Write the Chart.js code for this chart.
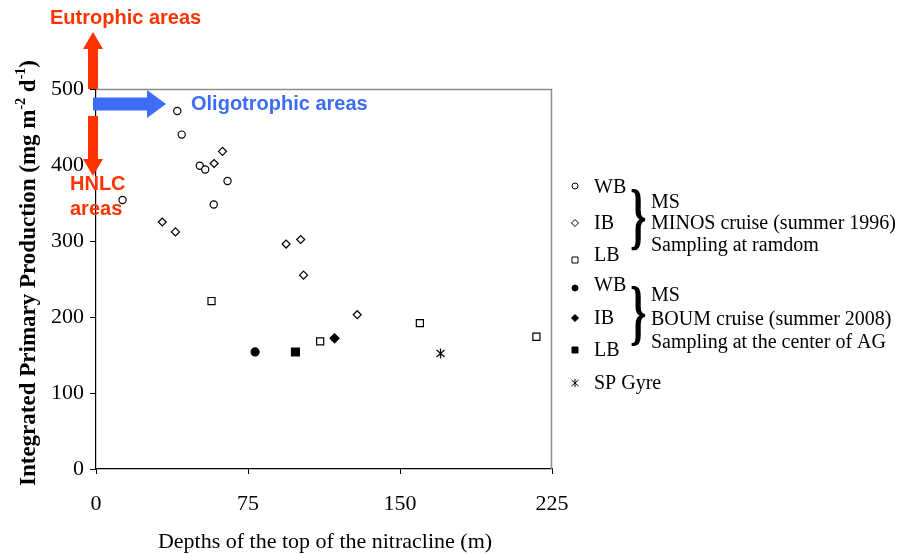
<!DOCTYPE html>
<html>
<head>
<meta charset="utf-8">
<script src="https://cdn.jsdelivr.net/npm/chart.js@4.4.1/dist/chart.umd.min.js"></script>
<style>
  html, body { margin: 0; padding: 0; background: #fff; }
  #wrap { width: 901px; height: 554px; }
</style>
</head>
<body>
<div id="wrap"><canvas id="ppChart" width="901" height="554"></canvas></div>
<script>
// axis ticks
const xTicks = [0, 75, 150, 225];
const yTicks = [0, 100, 200, 300, 400, 500];

// [depth of nitracline top (m), integrated PP (mg m-2 d-1)]
const minosWB = [[40.1, 471], [42.3, 440], [51.2, 399], [53.9, 394], [64.9, 379], [58.1, 348], [13.1, 354]];
const minosIB = [[62.4, 418], [58.3, 402], [32.7, 325], [39.2, 312], [93.8, 296], [101, 302], [102.4, 255], [128.9, 203]];
const minosLB = [[57, 221], [110.6, 168], [159.8, 192], [217.3, 174]];
const boumWB = [[78.5, 154]];
const boumIB = [[117.7, 172]];
const boumLB = [[98.4, 154]];
const spGyre = [[170, 152]];

const SERIF = "'Liberation Serif', 'Times New Roman', serif";
const SANS = "'Liberation Sans', Arial, sans-serif";
const RED = "#ff3300";
const BLUE = "#3d6cf5";

const toPts = (arr) => arr.map((p) => ({ x: p[0], y: p[1] }));

function makeStar() {
  const c = document.createElement("canvas");
  c.width = 11;
  c.height = 11;
  const g = c.getContext("2d");
  g.strokeStyle = "#000";
  g.lineWidth = 1.2;
  g.beginPath();
  g.moveTo(5.5, 0.5); g.lineTo(5.5, 10.5);
  g.moveTo(1.5, 2); g.lineTo(9.5, 9);
  g.moveTo(9.5, 2); g.lineTo(1.5, 9);
  g.stroke();
  return c;
}
const starImg = makeStar();

function ds(label, arr, style, filled, r) {
  return {
    label: label,
    data: toPts(arr),
    pointStyle: style,
    pointRadius: r,
    pointHoverRadius: r,
    borderWidth: 1.2,
    borderColor: "#000",
    backgroundColor: filled ? "#000" : "#fff",
  };
}

// small legend symbol
function sym(ctx, type, x, y, filled) {
  ctx.save();
  ctx.strokeStyle = "#000";
  ctx.fillStyle = filled ? "#000" : "#fff";
  ctx.lineWidth = 1;
  ctx.beginPath();
  if (type === "circle") ctx.arc(x, y, 3, 0, Math.PI * 2);
  if (type === "diamond") { ctx.moveTo(x, y - 3.5); ctx.lineTo(x + 3.5, y); ctx.lineTo(x, y + 3.5); ctx.lineTo(x - 3.5, y); ctx.closePath(); }
  if (type === "square") ctx.rect(x - 3, y - 3, 6, 6);
  if (type === "star") {
    ctx.moveTo(x, y - 4); ctx.lineTo(x, y + 4);
    ctx.moveTo(x - 3.5, y - 3); ctx.lineTo(x + 3.5, y + 3);
    ctx.moveTo(x + 3.5, y - 3); ctx.lineTo(x - 3.5, y + 3);
    ctx.stroke();
  } else {
    ctx.fill();
    ctx.stroke();
  }
  ctx.restore();
}

function brace(ctx, x, yTop, yBot) {
  const h = yBot - yTop;
  ctx.save();
  ctx.fillStyle = "#000";
  ctx.font = "bold 72px " + SERIF;
  ctx.textBaseline = "middle";
  const m = ctx.measureText("}");
  const gh = m.actualBoundingBoxAscent + m.actualBoundingBoxDescent;
  const sy = h / gh;
  ctx.translate(x, (yTop + yBot) / 2);
  ctx.scale(0.58, sy);
  ctx.fillText("}", 0, (m.actualBoundingBoxAscent - m.actualBoundingBoxDescent) / 2);
  ctx.restore();
}

function arrowV(ctx, x, yFrom, yTo) {
  const dir = yTo > yFrom ? 1 : -1;
  const headLen = 17;
  ctx.beginPath();
  ctx.moveTo(x - 5, yFrom);
  ctx.lineTo(x - 5, yTo - dir * headLen);
  ctx.lineTo(x - 10, yTo - dir * headLen);
  ctx.lineTo(x, yTo);
  ctx.lineTo(x + 10, yTo - dir * headLen);
  ctx.lineTo(x + 5, yTo - dir * headLen);
  ctx.lineTo(x + 5, yFrom);
  ctx.closePath();
  ctx.fill();
}

const decor = {
  id: "decor",
  beforeDatasetsDraw(chart) {
    const ctx = chart.ctx;
    const a = chart.chartArea;
    ctx.save();
    ctx.strokeStyle = "#8c8c8c";
    ctx.lineWidth = 1.5;
    ctx.beginPath();
    ctx.moveTo(a.left, a.top + 0.5);
    ctx.lineTo(a.right - 0.5, a.top + 0.5);
    ctx.lineTo(a.right - 0.5, a.bottom);
    ctx.stroke();
    ctx.restore();
  },
  afterDraw(chart) {
    const ctx = chart.ctx;
    const a = chart.chartArea;
    ctx.save();

    // axis titles
    ctx.fillStyle = "#000";
    ctx.font = "22px " + SERIF;
    ctx.textAlign = "center";
    ctx.textBaseline = "middle";
    ctx.fillText("Depths of the top of the nitracline (m)", 325, 542);

    const parts = [
      ["Integrated Primary Production (mg m", false],
      ["-2", true],
      [" d", false],
      ["-1", true],
      [")", false],
    ];
    const big = "bold 23px " + SERIF;
    const small = "bold 14px " + SERIF;
    let total = 0;
    parts.forEach((p) => { ctx.font = p[1] ? small : big; total += ctx.measureText(p[0]).width; });
    ctx.translate(35, 273);
    ctx.rotate(-Math.PI / 2);
    ctx.textAlign = "left";
    ctx.textBaseline = "alphabetic";
    let cx = -total / 2;
    parts.forEach((p) => {
      ctx.font = p[1] ? small : big;
      ctx.fillText(p[0], cx, p[1] ? -10 : 0);
      cx += ctx.measureText(p[0]).width;
    });
    ctx.setTransform(1, 0, 0, 1, 0, 0);

    // arrows and area labels
    const ax = a.left;
    ctx.fillStyle = RED;
    arrowV(ctx, ax - 3, a.top, 32);
    arrowV(ctx, ax - 3, 116, 176);
    ctx.fillStyle = BLUE;
    ctx.beginPath();
    ctx.moveTo(ax - 3, 97.5);
    ctx.lineTo(147, 97.5);
    ctx.lineTo(147, 90);
    ctx.lineTo(166, 104);
    ctx.lineTo(147, 118);
    ctx.lineTo(147, 110.5);
    ctx.lineTo(ax - 3, 110.5);
    ctx.closePath();
    ctx.fill();

    ctx.font = "bold 20px " + SANS;
    ctx.textAlign = "left";
    ctx.textBaseline = "middle";
    ctx.fillStyle = RED;
    ctx.fillText("Eutrophic areas", 50, 18);
    ctx.fillText("HNLC", 70, 184);
    ctx.fillText("areas", 70, 209);
    ctx.fillStyle = BLUE;
    ctx.fillText("Oligotrophic areas", 191, 104);

    // legend
    ctx.fillStyle = "#000";
    ctx.font = "20px " + SERIF;
    const lx = 575, tx = 594;
    sym(ctx, "circle", lx, 186, false);
    sym(ctx, "diamond", lx, 223, false);
    sym(ctx, "square", lx, 260, false);
    sym(ctx, "circle", lx, 288, true);
    sym(ctx, "diamond", lx, 318, true);
    sym(ctx, "square", lx, 350, true);
    sym(ctx, "star", lx, 383, false);
    ctx.fillStyle = "#000";
    ctx.fillText("WB", tx, 188);
    ctx.fillText("IB", tx, 224);
    ctx.fillText("LB", tx, 256);
    ctx.fillText("WB", tx, 286);
    ctx.fillText("IB", tx, 319);
    ctx.fillText("LB", tx, 351);
    ctx.fillText("SP Gyre", tx, 384);
    brace(ctx, 630, 189, 251);
    brace(ctx, 630, 286, 346);
    ctx.fillText("MS", 651, 203);
    ctx.fillText("MINOS cruise (summer 1996)", 651, 224);
    ctx.fillText("Sampling at ramdom", 651, 246);
    ctx.fillText("MS", 651, 296);
    ctx.fillText("BOUM cruise (summer 2008)", 651, 320);
    ctx.fillText("Sampling at the center of AG", 651, 343);
    ctx.restore();
  },
};

const ctx = document.getElementById("ppChart").getContext("2d");
const ppChart = new Chart(ctx, {
  type: "scatter",
  data: {
    datasets: [
      ds("WB (MINOS)", minosWB, "circle", false, 3.6),
      ds("IB (MINOS)", minosIB, "rectRot", false, 4),
      ds("LB (MINOS)", minosLB, "rect", false, 5),
      ds("WB (BOUM)", boumWB, "circle", true, 4),
      ds("IB (BOUM)", boumIB, "rectRot", true, 4.5),
      ds("LB (BOUM)", boumLB, "rect", true, 5.5),
      ds("SP Gyre", spGyre, starImg, false, 5),
    ],
  },
  options: {
    responsive: false,
    animation: false,
    events: [],
    layout: { padding: { left: 0, top: 89, right: 349, bottom: 0 } },
    plugins: { legend: { display: false }, tooltip: { enabled: false } },
    scales: {
      x: {
        type: "linear",
        min: xTicks[0],
        max: xTicks[xTicks.length - 1],
        afterFit: (s) => { s.height = 85; },
        afterBuildTicks: (s) => { s.ticks = xTicks.map((v) => ({ value: v })); },
        border: { color: "#000", width: 1.2 },
        grid: { drawOnChartArea: false, drawTicks: true, tickLength: 5, color: "#000" },
        ticks: { color: "#000", padding: 17, font: { family: SERIF, size: 22 } },
      },
      y: {
        type: "linear",
        min: yTicks[0],
        max: yTicks[yTicks.length - 1],
        afterFit: (s) => { s.width = 96; },
        afterBuildTicks: (s) => { s.ticks = yTicks.map((v) => ({ value: v })); },
        border: { color: "#000", width: 1.2 },
        grid: { drawOnChartArea: false, drawTicks: true, tickLength: 6, color: "#000" },
        ticks: { color: "#000", padding: 6, font: { family: SERIF, size: 22 } },
      },
    },
  },
  plugins: [decor],
});
</script>
</body>
</html>
